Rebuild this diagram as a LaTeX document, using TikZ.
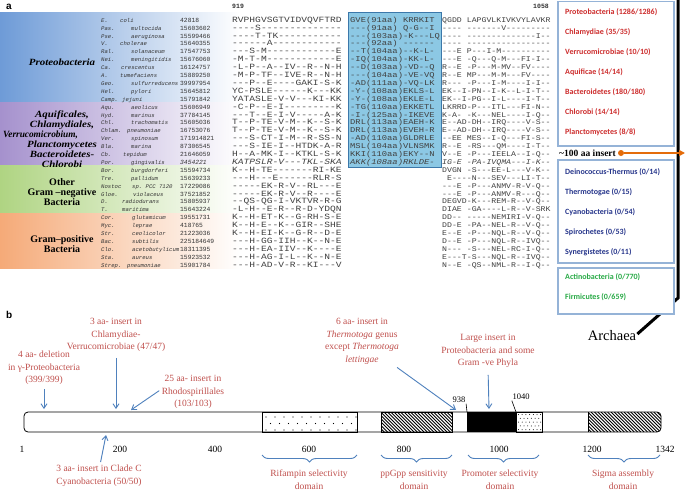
\documentclass[tikz,border=0pt]{standalone}
\usepackage{fontspec}
\setmainfont{Liberation Serif}
\setmonofont{Liberation Mono}
\newfontfamily\calib{Carlito}
\newfontfamily\arialf{Liberation Sans}
\usetikzlibrary{arrows.meta,decorations.pathreplacing}
\definecolor{bandblue}{RGB}{110,155,215}
\definecolor{bandpurple}{RGB}{165,145,205}
\definecolor{bandgreen}{RGB}{175,212,130}
\definecolor{bandorange}{RGB}{245,170,120}
\definecolor{boxfill}{RGB}{140,200,228}
\definecolor{boxline}{RGB}{60,120,170}
\definecolor{entred}{RGB}{205,45,45}
\definecolor{entblue}{RGB}{40,55,140}
\definecolor{entgreen}{RGB}{40,170,70}
\definecolor{frameblue}{RGB}{149,179,215}
\definecolor{insorange}{RGB}{228,108,10}
\definecolor{txtred}{RGB}{192,80,77}
\definecolor{arrblue}{RGB}{79,129,189}
\tikzset{
  nm/.style={anchor=base west, inner sep=0, font=\fontsize{5.6}{5.6}\ttfamily\itshape, text=black!80},
  numc/.style={anchor=base west, inner sep=0, font=\fontsize{6.3}{6.3}\ttfamily, text=black!80},
  sqa/.style={anchor=base west, inner sep=0, font=\fontsize{8}{8}\ttfamily, text=black!75},
  sqb/.style={anchor=base west, inner sep=0, font=\fontsize{7.4}{7.4}\ttfamily, text=black!75},
  sqc/.style={anchor=base west, inner sep=0, font=\fontsize{7.2}{7.2}\ttfamily, text=black!75},
  grp/.style={inner sep=0, font=\bfseries\itshape\fontsize{9.5}{9.5}\selectfont},
  grpu/.style={align=center, inner sep=0, font=\bfseries\fontsize{10}{10.2}\selectfont},
  ent/.style={anchor=west, inner sep=0, font=\calib\bfseries\fontsize{8}{8}\selectfont},
  frame/.style={draw=frameblue, line width=1.2pt, fill=white},
  redtxt/.style={text=txtred, align=center, inner sep=0, anchor=north, font=\fontsize{9.5}{12.6}\selectfont},
  numlab/.style={inner sep=0, anchor=base, font=\fontsize{9.5}{9.5}\selectfont},
  arr/.style={draw=arrblue, line width=0.9pt, -{Straight Barb[length=4.5pt,width=6pt]}},
  brc/.style={draw=arrblue, line width=0.9pt, decorate, decoration={brace, mirror, amplitude=7pt}},
  panel/.style={inner sep=0, anchor=base west, font=\arialf\bfseries\fontsize{10}{10}\selectfont}
}
\newcommand\seqrow[9]{%
  \pgfmathsetmacro\yy{22.2+(#1-1)*7.9}%
  \node[nm] (g#1) at (101,\yy) {#2};
  \node[nm] (s#1) at (#3,\yy) {#4};
  \node[numc] (n#1) at (180,\yy) {#9#5};
  \node[sqa] (a#1) at (232,\yy) {\scalebox{1.2}[1]{#9#6}};
  \node[sqb] (b#1) at (350,\yy) {\scalebox{1.19}[1]{#9#7}};
  \node[sqc] (c#1) at (442,\yy) {\scalebox{1.14}[1]{#9#8}};
}
\begin{document}
\begin{tikzpicture}[x=1pt,y=-1pt]
\useasboundingbox (0,0) rectangle (685,493);
\fill[white] (0,0) rectangle (685,493);
% ---------- panel a ----------
\node[panel] (pa) at (6,9) {a};
\shade[left color=bandblue, middle color=bandblue!55, right color=white] (0,12) rectangle (240,102.5);
\shade[left color=bandpurple, middle color=bandpurple!55, right color=white] (0,102.5) rectangle (240,165.7);
\shade[left color=bandgreen, middle color=bandgreen!55, right color=white] (0,165.7) rectangle (240,213);
\shade[left color=bandorange, middle color=bandorange!55, right color=white] (0,213) rectangle (240,268);
\node[grp] (gp1) at (62,62) {\scalebox{1.15}[1]{Proteobacteria}};
\node[grp] (gp2a) at (62,115.5) {\scalebox{1.15}[1]{Aquificales,}};
\node[grp] (gp2b) at (62,125.3) {\scalebox{1.15}[1]{Chlamydiales,}};
\node[grp, anchor=west] (gp2c) at (3,135.1) {\scalebox{0.98}[1]{Verrucomicrobium,}};
\node[grp] (gp2d) at (62,144.9) {\scalebox{1.15}[1]{Planctomycetes}};
\node[grp] (gp2e) at (62,154.7) {\scalebox{1.15}[1]{Bacteroidetes-}};
\node[grp] (gp2f) at (62,164.5) {\scalebox{1.15}[1]{Chlorobi}};
\node[grpu] (gp3) at (62,192) {Other\\Gram –negative\\Bacteria};
\node[grpu] (gp4) at (62,244) {Gram–positive\\Bacteria};
\node[numc, font=\fontsize{6.5}{6.5}\ttfamily\bfseries] (h919) at (232,8) {919};
\node[numc, font=\fontsize{6.5}{6.5}\ttfamily\bfseries, anchor=base east] (h1058) at (549,8) {1058};
\draw[boxline, fill=boxfill, line width=0.7pt] (348,12.5) rectangle (441,167);
\seqrow{1}{E.}{120}{coli}{42818}{RVPHGVSGTVIDVQVFTRD}{GVE(91aa)~KRRKIT}{QGDD~LAPGVLKIVKVYLAVKR}{\relax}
\seqrow{2}{Pas.}{131}{multocida}{15603602}{----S--------------}{---(91aa)~Q-G--I}{----~-------V---------}{\relax}
\seqrow{3}{Pse.}{131}{aeruginosa}{15599466}{----T-TK-----------}{---(103aa)-K---LQ}{----~--------------I--}{\relax}
\seqrow{4}{V.}{120}{cholerae}{15640355}{------A------------}{---(92aa)~------}{----~-----------------}{\relax}
\seqrow{5}{Ral.}{131}{solanaceum}{17547753}{---S-M------------E}{--T(104aa)--K-L-}{---E~P---I-M----------}{\relax}
\seqrow{6}{Nei.}{131}{meningitidis}{15676060}{-M-T-M------------E}{-IQ(104aa)-KK-L-}{---E~-Q---Q-M---FI-I--}{\relax}
\seqrow{7}{Ca.}{121}{crescentus}{16124757}{-L-P--A--IV--R--N-H}{--D(103aa)-VD--Q}{R--E~-P---M-MV--FV----}{\relax}
\seqrow{8}{A.}{120}{tumefaciens}{15889250}{-M-P-TF--IVE-R--N-H}{---(104aa)-VE-VQ}{R--E~MP---M-M---FV----}{\relax}
\seqrow{9}{Geo.}{131}{sulfurreducens}{39997954}{---P--E----GAKI-S-K}{-AD(111aa)-VQ-LK}{R---~-P---I-M----I-I--}{\relax}
\seqrow{10}{Hel.}{131}{pylori}{15645812}{YC-PSLE------K---KK}{-Y-(108aa)EKLS-L}{EK--I-PN--I-K--L-I-T--}{\relax}
\seqrow{11}{Camp.}{122}{jejuni}{15791842}{YATASLE-V-V---KI-KK}{-Y-(108aa)EKLE-L}{EK--I-PG--I-L----I-T--}{\relax}
\seqrow{12}{Aqu.}{131}{aeolicus}{15606949}{-C-P--E-I---------K}{-TG(110aa)EKKETL}{LKRRD-P---ITL---FI-N--}{\relax}
\seqrow{13}{Hyd.}{131}{marinus}{37784145}{---T--E-I-V-----A-K}{-I-(125aa)-IKEVE}{K-A-~-K---NEL----I-Q--}{\relax}
\seqrow{14}{Chl.}{131}{trachomatis}{15605036}{T--P-TE-V-M--K--S-K}{DRL(113aa)EAEH-K}{E--AD-DH--IRQ----V-S--}{\relax}
\seqrow{15}{Chlam.}{127}{pneumoniae}{16753076}{T--P-TE-V-M--K--S-K}{DRL(113aa)EVEH-R}{E--AD-DH--IRQ----V-S--}{\relax}
\seqrow{16}{Ver.}{131}{spinosum}{171914821}{---S-CT-I-M--R-SS-N}{-AD(110aa)GLDRLE}{--EE~MES--I-Q---FI-S--}{\relax}
\seqrow{17}{Bla.}{131}{marina}{87306545}{---S-IE-I--HTDK-A-R}{MSL(104aa)VLNSMK}{R--E~-RS---QM----I-T--}{\relax}
\seqrow{18}{Cb.}{123}{tepidum}{21646059}{H--A-MK-I--KTKL-S-K}{KKI(110aa)EKY--N}{V--E~-P---IEELA--I-Q--}{\relax}
\seqrow{19}{Por.}{131}{gingivalis}{3454221}{KATPSLR-V---TKL-SKA}{AKK(108aa)RKLDE-}{IG-E~-PA-IVQMA---I-K--}{\itshape}
\seqrow{20}{Bor.}{131}{burgdorferi}{15594734}{K--H-TE-------RI-KE}{}{DVGN~-S---EE-L---V-K--}{\relax}
\seqrow{21}{Tre.}{131}{pallidum}{15639233}{---H---E------RLR-S}{}{~E----N---SEV---LI-T--}{\relax}
\seqrow{22}{Nostoc}{132}{sp. PCC 7120}{17229086}{-----EK-R-V--RL---E}{}{---E~-P---ANMV-R-V-Q--}{\relax}
\seqrow{23}{Gloe.}{133}{violaceus}{37521852}{-----EK-R-V--R----E}{}{---E~-P---ANMV-R---Q--}{\relax}
\seqrow{24}{D.}{122}{radiodurans}{15805937}{--QS-QG-I-VKTVR-R-G}{}{DEGVD-K---REM-R--V-Q--}{\relax}
\seqrow{25}{T.}{122}{maritima}{15643224}{-L-H--E-R--R-D-YDQN}{}{DIAE~-GA----L-R--V-SRK}{\relax}
\seqrow{26}{Cor.}{132}{glutamicum}{19551731}{K--H-ET-K--G-RH-S-E}{}{DD--~-----NEMIRI-V-Q--}{\relax}
\seqrow{27}{Myc.}{132}{leprae}{418765}{K--H-E--K--GIR--SHE}{}{DD-E~-PA--NEL-R--V-Q--}{\relax}
\seqrow{28}{Str.}{132}{ceolicolor}{21223036}{K--H-EI-K--G-R--D-E}{}{E--E~-P---NQL-R--V-Q--}{\relax}
\seqrow{29}{Bac.}{132}{subtilis}{225184649}{---H-GG-IIH--K--N-E}{}{D--E~-P---NQL-R--IVQ--}{\relax}
\seqrow{30}{Clo.}{132}{acetobutylicum}{18311395}{---H-EA-IIV--K----E}{}{N---~-S---NEL-RC-I-Q--}{\relax}
\seqrow{31}{Sta.}{132}{aureus}{15923532}{---H-AG-I-L--K--N-E}{}{E---T-S---NQL-R--IVQ--}{\relax}
\seqrow{32}{Strep.}{127}{pneumoniae}{15901784}{---H-AD-V-R--KI---V}{}{N--E~-QS--NML-R--I-Q--}{\relax}
% ---------- right side ----------
\coordinate (bl0) at (678,-2);
\coordinate (bl1) at (678,298);
\node[inner sep=0, font=\fontsize{14.5}{14.5}\selectfont] (arch) at (612,336) {Archaea};
\draw[line width=3pt] (bl0) -- (bl1) -- ([xshift=1pt,yshift=2pt]arch.east);
\draw[frame] (558,1.5) rectangle (674,146);
\node[ent, text=entred] (p1) at (565,12) {Proteobacteria (1286/1286)};
\node[ent, text=entred] (p2) at (565,32) {Chlamydiae (35/35)};
\node[ent, text=entred] (p3) at (565,52) {Verrucomicrobiae (10/10)};
\node[ent, text=entred] (p4) at (565,72) {Aquificae (14/14)};
\node[ent, text=entred] (p5) at (565,92) {Bacteroidetes (180/180)};
\node[ent, text=entred] (p6) at (565,112) {Chlorobi (14/14)};
\node[ent, text=entred] (p7) at (565,132) {Planctomycetes (8/8)};
\node[anchor=west, inner sep=0, font=\bfseries\fontsize{9.5}{9.5}\selectfont] (ins) at (559,153) {\textasciitilde100 aa insert};
\node[circle, fill=insorange, inner sep=0, minimum size=6pt] (dot) at (621,153) {};
\coordinate (insend) at (685,153);
\draw[insorange, line width=1.6pt, -{Triangle[length=6pt,width=6pt]}] (dot) -- (insend);
\draw[frame] (558,160) rectangle (674,263);
\node[ent, text=entblue] (q1) at (565,172) {Deinococcus-Thermus (0/14)};
\node[ent, text=entblue] (q2) at (565,192) {Thermotogae (0/15)};
\node[ent, text=entblue] (q3) at (565,212) {Cyanobacteria (0/54)};
\node[ent, text=entblue] (q4) at (565,232) {Spirochetes (0/53)};
\node[ent, text=entblue] (q5) at (565,252) {Synergistetes (0/11)};
\draw[frame] (558,268) rectangle (674,314);
\node[ent, text=entgreen] (r1) at (565,277) {Actinobacteria (0/770)};
\node[ent, text=entgreen] (r2) at (565,297) {Firmicutes (0/659)};
% ---------- panel b ----------
\node[panel] (pb) at (6,318) {b};
\fill[white] (24,412) rectangle (661,432);
% rifampin dots
\foreach \k in {0,...,10} {\fill (266+9*\k,417) circle (0.55); \fill (266+9*\k,430) circle (0.55);}
\foreach \k in {0,...,9} {\fill (270.5+9*\k,423.5) circle (0.55);}
\draw[line width=0.6pt] (262,412) rectangle (357,432);
% ppGpp hatch
\begin{scope}
\clip (381,412) rectangle (452,432);
\foreach \k in {0,...,28} {\draw[line width=0.9pt] (361+3.3*\k,412) -- ++(20,20);}
\end{scope}
\draw[line width=0.6pt] (381,412) rectangle (452,432);
% black block
\fill (467,412) rectangle (516,432);
% dense dots
\foreach \yy in {414.5,422.1,429.7} {\foreach \k in {0,...,6} {\fill (518.5+3.7*\k,\yy) circle (0.5);}}
\foreach \yy in {418.3,425.9} {\foreach \k in {0,...,5} {\fill (520.3+3.7*\k,\yy) circle (0.5);}}
\draw[line width=0.6pt] (516,412) rectangle (542,432);
% sigma hatch
\begin{scope}
\clip[rounded corners=4pt] (24,412) rectangle (661,432);
\clip (588,412) rectangle (670,432);
\foreach \k in {0,...,29} {\draw[line width=0.9pt] (568+3.3*\k,412) -- ++(20,20);}
\end{scope}
\draw[line width=0.6pt] (588,412) -- (588,432);
\draw[line width=0.8pt, rounded corners=4pt] (24,412) rectangle (661,432);
% position labels
\node[inner sep=0.5pt, font=\fontsize{8.5}{8.5}\selectfont] (l938) at (459,400) {938};
\node[inner sep=0.5pt, font=\fontsize{8.5}{8.5}\selectfont] (l1040) at (521,397) {1040};
\coordinate (c938) at (467,412);
\coordinate (c1040) at (516,412);
\draw[line width=0.6pt] (l938.south east) -- (c938);
\draw[line width=0.6pt] (l1040.south west) -- (c1040);
\node[numlab] (k1) at (22,452.5) {1};
\node[numlab] (k200) at (120,452.5) {200};
\node[numlab] (k400) at (215,452.5) {400};
\node[numlab] (k600) at (309,452.5) {600};
\node[numlab] (k800) at (404,452.5) {800};
\node[numlab] (k1000) at (499,452.5) {1000};
\node[numlab] (k1200) at (592,452.5) {1200};
\node[numlab] (k1342) at (665,452.5) {1342};
% annotations
\node[redtxt] (d1) at (44,351) {4 aa- deletion\\in γ-Proteobacteria\\(399/399)};
\node[redtxt] (d2) at (116,318) {3 aa- insert in\\Chlamydiae-\\Verrucomicrobiae (47/47)};
\node[redtxt] (d3) at (193,375) {25 aa- insert in\\Rhodospirillales\\(103/103)};
\node[redtxt] (d4) at (362,318) {6 aa- insert in\\\textit{Thermotoga} genus\\except \textit{Thermotoga}\\\textit{lettingae}};
\node[redtxt] (d5) at (488,334) {Large insert in\\Proteobacteria and some\\Gram -ve Phyla};
\node[redtxt] (d6) at (99,465) {3 aa- insert in Clade C\\Cyanobacteria (50/50)};
\coordinate (e1) at (44,409);
\coordinate (e2) at (116,409);
\coordinate (e3) at (131,410);
\coordinate (e4) at (456,410);
\coordinate (e5) at (489,409);
\coordinate (e6) at (106,435);
\draw[arr, shorten <=4pt] (d1.south) -- (e1);
\draw[arr, shorten <=6pt] (d2.south) -- (e2);
\draw[arr, shorten <=3pt] ([yshift=3pt]d3.west) -- (e3);
\draw[arr, shorten <=5pt] ([xshift=-6pt]d4.south east) -- (e4);
\draw[arr, shorten <=7pt] (d5.south) -- (e5);
\draw[arr, shorten <=3pt] ([xshift=1pt]d6.north) -- (e6);
% braces
\draw[brc] (262,455) -- (357,455);
\draw[brc] (381,455) -- (452,455);
\draw[brc] (468,455) -- (539,455);
\draw[brc] (588,455) -- (660,455);
\node[redtxt] (m1) at (309,470) {Rifampin selectivity\\domain};
\node[redtxt] (m2) at (414,470) {ppGpp sensitivity\\domain};
\node[redtxt] (m3) at (500,470) {Promoter selectivity\\domain};
\node[redtxt] (m4) at (623,470) {Sigma assembly\\domain};
\end{tikzpicture}
\end{document}
